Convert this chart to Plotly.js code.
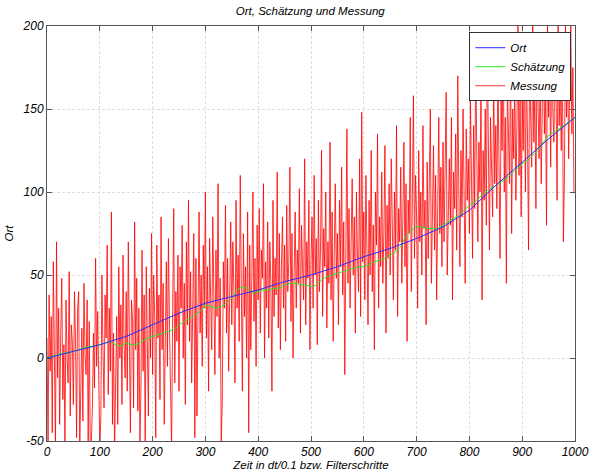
<!DOCTYPE html>
<html>
<head>
<meta charset="utf-8">
<script src="https://cdn.plot.ly/plotly-3.0.1.min.js"></script>
<style>html,body{margin:0;padding:0;background:#fff;}#chart{width:591px;height:472px;}</style>
</head>
<body>
<div id="chart"></div>
<script>
// Ort (true position), sampled every 50 steps
var ortT = [0,50,100,150,200,250,300,350,400,450,500,550,600,650,700,750,800,850,900,950,1000];
var ortV = [0,4,8,13,20,27,33,37,41,46,50,55,61,66,72,79,89,104,118,132,145];

// Schätzung (estimate), sampled every 10 steps
var schT = [0,10,20,30,40,50,60,70,80,90,100,110,120,130,140,150,160,170,180,190,200,210,220,230,240,250,260,270,280,290,300,310,320,330,340,350,360,370,380,390,400,410,420,430,440,450,460,470,480,490,500,510,520,530,540,550,560,570,580,590,600,610,620,630,640,650,660,670,680,690,700,710,720,730,740,750,760,770,780,790,800,810,820,830,840,850,860,870,880,890,900,910,920,930,940,950,960,970,980,990,1000];
var schV = [0,1,2,3,3,4,5,6,7,7,8,9,10,8,7,9,8,8,10,12,13,14,15,16,17,20,22,24,26,28,32,31,30,31,33,36,41,43,42,39,40,41,41,42,42,44,45,45,44,44,43,44,47,49,50,51,52,53,54,55,55,56,58,59,60,62,64,67,74,77,79,79,78,78,78,80,82,84,86,89,92,94,97,100,102,104,106,108,111,114,117,119,122,125,130,134,136,138,140,143,145];

// Messung (measurement), every 2 steps
var messStep = 2;
var messV = [
12,-52,38,-8,25,-45,58,5,-55,70,-12,30,-40,15,48,-25,8,-52,35,0,-15,52,-35,20,10,
-28,40,12,-48,30,40,-55,-20,18,-38,45,2,-10,35,-52,22,-55,-50,-30,15,-18,60,-5,28,-42,
-55,-35,50,5,-30,38,12,68,-22,30,-8,88,-40,15,-58,-15,25,-40,55,0,32,-28,62,8,-12,
40,-20,70,10,-45,35,22,-30,82,5,48,-32,30,-52,-18,65,-8,38,-56,55,20,-35,42,0,75,
-10,50,25,-48,68,12,38,-25,85,5,45,-40,30,58,-5,72,18,-30,-55,28,90,-15,40,10,62,
-20,55,30,80,0,45,-28,70,20,95,10,52,-15,38,75,-48,60,-35,42,88,15,50,-5,68,30,
100,12,55,-20,72,35,5,85,40,-10,65,25,105,0,48,-52,-25,58,30,92,15,60,-8,45,82,
20,70,40,-15,95,30,62,10,110,45,-20,75,25,55,0,88,-45,68,5,50,100,22,60,-5,80,
35,90,15,65,48,105,0,58,30,82,12,70,45,-20,95,25,60,38,112,18,75,5,55,85,30,
68,10,92,40,58,115,22,75,0,50,88,30,65,45,102,15,80,55,35,120,20,70,48,95,5,
60,85,30,110,50,72,8,95,40,65,125,25,78,55,100,18,70,45,130,35,88,10,62,105,48,
75,20,95,55,115,38,82,-10,68,138,45,90,30,72,108,50,85,15,100,62,40,120,25,148,58,
88,35,110,65,20,95,50,125,40,80,5,100,68,135,30,85,55,112,45,75,128,15,92,60,105,
50,120,80,35,100,65,140,25,90,70,115,45,85,130,55,105,10,95,75,145,40,88,158,60,110,
85,30,125,70,100,50,140,78,95,20,118,60,105,150,45,90,128,65,110,35,98,145,75,115,55,
130,70,108,160,50,95,120,80,145,35,112,90,135,65,170,100,55,125,85,150,110,45,138,95,120,
75,155,105,60,140,90,180,115,70,130,100,165,35,125,95,150,80,190,110,65,145,120,85,170,105,
140,90,175,115,60,155,125,195,100,145,45,165,130,105,185,75,150,120,170,95,140,200,110,160,85,
155,125,190,100,170,135,65,180,145,115,200,130,160,90,185,140,120,175,105,150,195,135,165,80,200,
145,175,115,195,150,130,185,160,95,200,140,170,125,190,70,110,200,145,180,120,165,200,135,175,100
];
var messT = messV.map(function(_, i){ return i * messStep; });

var tickX = [0,100,200,300,400,500,600,700,800,900,1000];
var tickY = [-50,0,50,100,150,200];

var fontBase = {family: '"Liberation Sans", Arial, sans-serif', size: 12, color: '#000', style: 'italic'};
var fontSmall = {family: '"Liberation Sans", Arial, sans-serif', size: 11.5, color: '#000', style: 'italic'};

var traces = [
  {x: messT, y: messV, type: 'scatter', mode: 'lines', name: 'Messung',
   line: {color: 'rgb(255,0,0)', width: 0.8}},
  {x: schT, y: schV, type: 'scatter', mode: 'lines', name: 'Schätzung',
   line: {color: 'rgb(40,230,40)', width: 1}},
  {x: ortT, y: ortV, type: 'scatter', mode: 'lines', name: 'Ort',
   line: {color: 'rgb(40,40,255)', width: 1}}
];

var axisCommon = {
  showline: true, mirror: 'ticks', linecolor: '#555', linewidth: 1,
  ticks: 'inside', ticklen: 5, tickcolor: '#555',
  showgrid: true, gridcolor: 'rgb(222,222,222)', griddash: '3px,2px', gridwidth: 1,
  zeroline: false, tickfont: fontBase
};

var layout = {
  width: 591, height: 472,
  margin: {l: 47, r: 16, t: 26, b: 31},
  paper_bgcolor: '#fff', plot_bgcolor: '#fff',
  font: fontBase,
  title: {text: 'Ort, Schätzung und Messung', font: fontSmall, x: 0.525, xanchor: 'center', y: 0.985, yanchor: 'top'},
  xaxis: Object.assign({}, axisCommon, {
    range: [0, 1000], tickvals: tickX, ticktext: tickX.map(String),
    title: {text: 'Zeit in dt/0.1 bzw. Filterschritte', font: fontSmall, standoff: 1}
  }),
  yaxis: Object.assign({}, axisCommon, {
    range: [-50, 200], tickvals: tickY, ticktext: tickY.map(String),
    title: {text: 'Ort', font: fontSmall, standoff: 6}
  }),
  showlegend: true,
  legend: {
    x: 0.993, xanchor: 'right', y: 0.985, yanchor: 'top',
    bgcolor: '#fff', bordercolor: '#333', borderwidth: 1,
    font: fontSmall, traceorder: 'reversed', tracegroupgap: 0
  }
};

Plotly.newPlot('chart', traces, layout, {displayModeBar: false, staticPlot: true});
</script>
</body>
</html>
